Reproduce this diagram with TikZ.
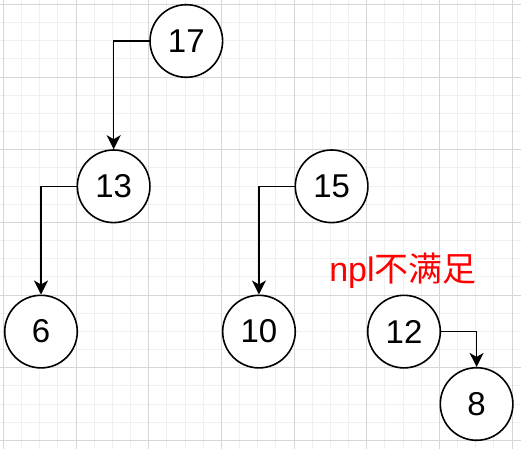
\documentclass[tikz,border=0pt]{standalone}
\usepackage{fontspec}
\setmainfont{Liberation Sans}
\newfontfamily\cjk{Noto Sans CJK SC}
\usetikzlibrary{arrows.meta}

\definecolor{gridmajor}{RGB}{214,214,214}
\definecolor{gridminor}{RGB}{240,240,240}

\begin{document}
\begin{tikzpicture}[x=1pt,y=-1pt,
  heapnode/.style={circle,draw=black,line width=1.6pt,fill=white,
    minimum size=72.6pt,inner sep=0pt,font=\fontsize{33}{33}\selectfont},
  link/.style={draw=black,line width=1.6pt,
    -{Stealth[length=14pt,width=14pt,inset=4pt]}},
  minorline/.style={draw=gridminor,line width=1pt},
  majorline/.style={draw=gridmajor,line width=1pt},
  note/.style={text=red,font=\fontsize{34}{34}\selectfont,inner sep=0pt,anchor=base},
]
\useasboundingbox (0,0) rectangle (521,449);
\fill[white] (0,0) rectangle (521,449);

% background grid: minor lines, then every fourth line darker
\foreach \i in {0,...,28} \draw[minorline] ({3.5+18.1625*\i},0) -- ({3.5+18.1625*\i},449);
\foreach \i in {0,...,24} \draw[minorline] (0,{4.5+18.1625*\i}) -- (521,{4.5+18.1625*\i});
\foreach \i in {0,...,7} \draw[majorline] ({3.5+72.65*\i},0) -- ({3.5+72.65*\i},449);
\foreach \i in {0,...,6} \draw[majorline] (0,{4.5+72.65*\i}) -- (521,{4.5+72.65*\i});

% heap nodes
\node[heapnode] (n17) at (186.3,41)   {17};
\node[heapnode] (n13) at (113.65,186.3) {13};
\node[heapnode] (n6)  at (41,331.6)   {6};
\node[heapnode] (n15) at (331.6,186.3) {15};
\node[heapnode] (n10) at (258.95,331.6) {10};
\node[heapnode] (n12) at (404,331.6)  {12};
\node[heapnode] (n8)  at (476.6,404)  {8};

% child links
\draw[link] (n17.west) -| (n13.north);
\draw[link] (n13.west) -| (n6.north);
\draw[link] (n15.west) -| (n10.north);
\draw[link] (n12.east) -| (n8.north);

% annotation
\node[note] (lbl) at (403,281) {npl{\cjk 不满足}};
\end{tikzpicture}
\end{document}
